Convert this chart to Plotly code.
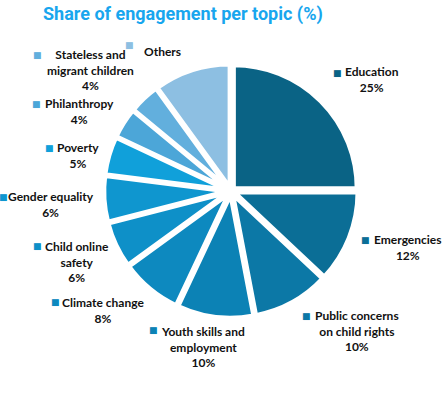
import plotly.graph_objects as go

# ---- data ----
topics = ["Education", "Emergencies", "Public concerns on child rights",
          "Youth skills and employment", "Climate change", "Child online safety",
          "Gender equality", "Poverty", "Philanthropy",
          "Stateless and migrant children", "Others"]
label_lines = ["Education", "Emergencies", "Public concerns<br>on child rights",
               "Youth skills and<br>employment", "Climate change", "Child online<br>safety",
               "Gender equality", "Poverty", "Philanthropy",
               "Stateless and<br>migrant children", "Others"]
shares = [25, 12, 10, 10, 8, 6, 6, 5, 4, 4, 10]
show_pct = [True, True, True, True, True, True, True, True, True, True, False]

# ---- styles ----
colors = ["#0A6385", "#0B6E96", "#0C78A6", "#0C82B5", "#0D89BF", "#0E90C8",
          "#0F96CF", "#10A0DA", "#4CA6D8", "#62AFDD", "#8DBFE2"]
W, H = 448, 394
# text block centres (pixels) and marker square positions (pixels)
text_pos = [(372, 80), (408, 247), (357, 331), (203, 347), (103, 310), (77, 262),
            (51, 205), (78, 155), (79, 112), (90, 70), (162, 51)]
sq_pos = [(337, 73), (365, 240), (306, 316), (153, 330), (55, 302), (37, 246),
          (3, 197), (49, 148), (36, 104), (37, 55), (129, 45)]

fig = go.Figure(go.Pie(
    labels=topics, values=shares, sort=False, direction="clockwise", rotation=0,
    marker=dict(colors=colors, line=dict(color="white", width=4.5)),
    pull=[0.03] * len(shares), textinfo="none", hoverinfo="label+percent",
    showlegend=False,
    domain=dict(x=[104 / W, 358 / W], y=[1 - 318 / H, 1 - 64 / H]),
))

def px(x, y):
    return x / W, 1 - y / H

ann = []
for lab, val, sp, tp, sq, c in zip(label_lines, shares, show_pct, text_pos, sq_pos, colors):
    txt = lab + (f"<br>{val}%" if sp else "")
    x, y = px(*tp)
    ann.append(dict(x=x, y=y, xref="paper", yref="paper", text=txt, showarrow=False,
                    align="center", xanchor="center", yanchor="middle",
                    font=dict(family="Lato", size=12, color="#111111", weight="bold")))
    sx, sy = px(*sq)
    ann.append(dict(x=sx, y=sy, xref="paper", yref="paper", text="■", showarrow=False,
                    xanchor="center", yanchor="middle",
                    font=dict(family="DejaVu Sans", size=9, color=c)))

tx, ty = px(41, 14)
ann.append(dict(x=tx, y=ty, xref="paper", yref="paper",
                text="<b>Share of engagement per topic (%)</b>", showarrow=False,
                xanchor="left", yanchor="middle",
                font=dict(family="Roboto", size=18, color="#18A6EE")))

fig.update_layout(width=W, height=H, margin=dict(l=0, r=0, t=0, b=0),
                  paper_bgcolor="white", plot_bgcolor="white", annotations=ann)
fig.write_html("out.html", config={"displayModeBar": False},
               post_script="document.body.style.margin='0';")
